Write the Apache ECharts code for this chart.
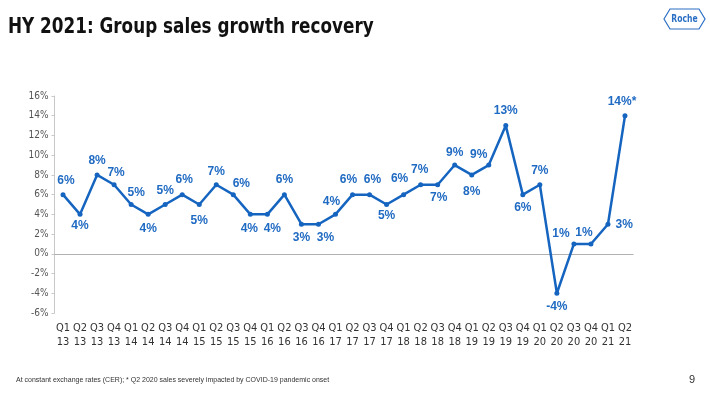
<!DOCTYPE html>
<html>
<head>
<meta charset="utf-8">
<script src="https://cdn.jsdelivr.net/npm/echarts@6/dist/echarts.min.js"></script>
<style>
html,body{margin:0;padding:0;background:#fff;}
#chart{width:710px;height:393px;}
</style>
</head>
<body>
<div id="chart"></div>
<script>
// ---- data ----
var quarters = ['Q1','Q2','Q3','Q4','Q1','Q2','Q3','Q4','Q1','Q2','Q3','Q4','Q1','Q2','Q3','Q4','Q1','Q2','Q3','Q4','Q1','Q2','Q3','Q4','Q1','Q2','Q3','Q4','Q1','Q2','Q3','Q4','Q1','Q2'];
var years = ['13','13','13','13','14','14','14','14','15','15','15','15','16','16','16','16','17','17','17','17','18','18','18','18','19','19','19','19','20','20','20','20','21','21'];
var growth = [6,4,8,7,5,4,5,6,5,7,6,4,4,6,3,3,4,6,6,5,6,7,7,9,8,9,13,6,7,-4,1,1,3,14];
var yTicks = [-6,-4,-2,0,2,4,6,8,10,12,14,16];
var footnoteIndex = 33; // label with "*"

// ---- label placement (styling only) ----
var labelPos = ['top','bottom','top','top','top','bottom','top','top','bottom','top','top','bottom','bottom','top','bottom','bottom','top','top','top','bottom','top','top','bottom','top','bottom','top','top','bottom','top','bottom','top','top','right','top'];
var labelShift = [[3,-11],[0,9],[0,-12],[2,-10],[5,-9],[0,12],[0,-11],[2,-12],[0,14],[0,-11],[8,-8],[-1,12],[5,12],[0,-12],[0,11],[7,11],[-4,-10],[-4,-12],[3,-12],[0,9],[-4,-13],[-1,-13],[1,10],[0,-10],[0,14],[-10,-8],[0,-12],[0,11],[0,-12],[0,11],[-13,-8],[-7,-9],[16,0],[-3,-12]];

var categories = quarters.map(function(q,i){return q+'\n'+years[i];});
var blue = '#1565c0';
var labelBlue = '#1f6ac2';

var seriesData = growth.map(function(v,i){
  var pos = labelPos[i], s = labelShift[i], off;
  if(pos==='top') off=[s[0], s[1]+11];
  else if(pos==='bottom') off=[s[0], s[1]-11];
  else off=[s[0]-16, s[1]];
  return {value:v, label:{position:pos, offset:off}};
});

var chart = echarts.init(document.getElementById('chart'));
chart.setOption({
  backgroundColor:'#ffffff',
  animation:false,
  grid:{left:54.5, right:76.5, top:96, bottom:80, containLabel:false},
  xAxis:{
    type:'category',
    data:categories,
    boundaryGap:true,
    axisLine:{show:false},
    axisTick:{show:false},
    axisLabel:{color:'#333', fontSize:11, lineHeight:14, margin:8, interval:0,
      fontFamily:'"Liberation Sans Narrow","DejaVu Sans Condensed",Arial,sans-serif'}
  },
  yAxis:{
    type:'value',
    min:-6, max:16, interval:2,
    axisLine:{show:true, lineStyle:{color:'#c8c8c8', width:1}},
    axisTick:{show:true, length:3, inside:false, lineStyle:{color:'#c8c8c8'}},
    splitLine:{show:false},
    axisLabel:{color:'#555', fontSize:10, margin:6,
      fontFamily:'"Liberation Sans Narrow","DejaVu Sans Condensed",Arial,sans-serif',
      formatter:function(v){return v+'%';}}
  },
  series:[{
    type:'line',
    data:seriesData,
    symbol:'circle',
    symbolSize:5,
    lineStyle:{color:blue, width:2.5},
    itemStyle:{color:blue},
    label:{show:true, color:labelBlue, fontWeight:'bold', fontSize:12,
      fontFamily:'Arial,"Liberation Sans",sans-serif',
      formatter:function(p){return p.value+'%'+(p.dataIndex===footnoteIndex?'*':'');}},
    markLine:{
      silent:true, symbol:'none',
      label:{show:false},
      lineStyle:{color:'#b0b0b0', type:'solid', width:1},
      data:[{yAxis:0}]
    },
    z:5
  }],
  graphic:[
    {type:'text', x:8, y:27, scaleX:0.85, style:{text:'HY 2021: Group sales growth recovery', fill:'#111',
      verticalAlign:'middle', align:'left',
      font:'bold 22px "Liberation Sans Narrow","DejaVu Sans Condensed",Arial,sans-serif'}},
    {type:'polygon', shape:{points:[[664,19],[670,9],[699,9],[705,19],[699,29],[670,29]]},
      style:{fill:'none', stroke:'#2a6fc4', lineWidth:1.2}},
    {type:'text', x:684.5, y:19, scaleX:0.85, style:{text:'Roche', fill:'#2a6fc4', align:'center', verticalAlign:'middle',
      font:'bold 10px "Liberation Sans Narrow","DejaVu Sans Condensed",Arial,sans-serif'}},
    {type:'text', left:16, top:377, style:{text:'At constant exchange rates (CER); * Q2 2020 sales severely impacted by COVID-19 pandemic onset',
      fill:'#333', font:'7px Arial,"Liberation Sans",sans-serif'}},
    {type:'text', left:689, top:374, style:{text:'9', fill:'#333', font:'11px Arial,"Liberation Sans",sans-serif'}}
  ]
});
</script>
</body>
</html>
